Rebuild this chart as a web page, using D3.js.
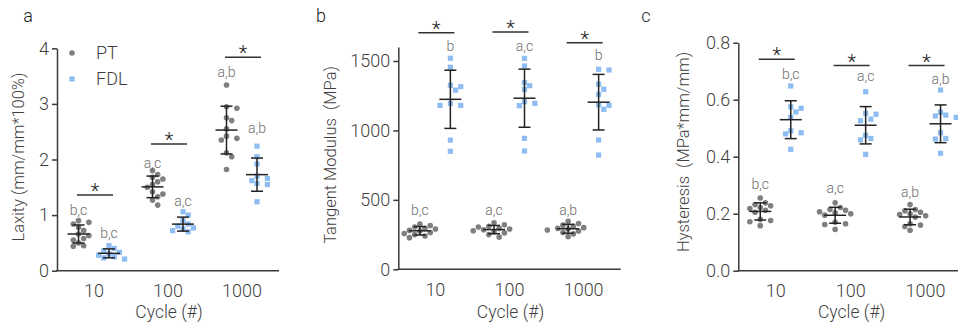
<!DOCTYPE html>
<html>
<head>
<meta charset="utf-8">
<script src="https://cdn.jsdelivr.net/npm/d3@7"></script>
<style>
  body { margin: 0; background: #fff; }
  svg text { font-family: Roboto, "Open Sans", sans-serif; font-weight: 300; }
</style>
</head>
<body>
<svg id="chart" width="958" height="329"></svg>
<script>
// categories
const cycles = ['10', '100', '1000'];
const groups = ['PT', 'FDL'];

// a: laxity (mm/mm*100%)
const laxityPT = [
  [0.90, 0.87, 0.84, 0.78, 0.72, 0.66, 0.63, 0.58, 0.55, 0.50, 0.45, 0.44],
  [1.80, 1.73, 1.68, 1.65, 1.60, 1.55, 1.50, 1.42, 1.38, 1.33, 1.27, 1.18],
  [3.34, 2.95, 2.92, 2.75, 2.70, 2.55, 2.42, 2.35, 2.38, 2.12, 2.05, 1.82]
];
const laxityFDL = [
  [0.45, 0.40, 0.36, 0.33, 0.30, 0.28, 0.25, 0.23, 0.21],
  [1.06, 1.00, 0.90, 0.84, 0.80, 0.77, 0.75, 0.72, 0.70],
  [2.24, 2.05, 1.92, 1.70, 1.66, 1.62, 1.57, 1.55, 1.24]
];
const laxityLetters = [['b,c', 'b,c'], ['a,c', 'a,c'], ['a,b', 'a,b']];
const laxityLetterAt = [[1.00, 0.59], [1.85, 1.16], [3.48, 2.48]];
const laxitySigAt = [1.36, 2.28, 3.84];

// b: tangent modulus (MPa)
const modulusPT = [
  [325, 315, 305, 295, 290, 280, 275, 265, 258, 250, 240, 228],
  [335, 320, 310, 305, 295, 290, 285, 278, 270, 262, 250, 232],
  [345, 330, 318, 310, 300, 295, 290, 283, 275, 265, 255, 235]
];
const modulusFDL = [
  [1520, 1455, 1325, 1315, 1290, 1195, 1180, 1180, 930, 850],
  [1519, 1464, 1344, 1322, 1296, 1207, 1195, 1178, 943, 852],
  [1440, 1435, 1332, 1296, 1260, 1185, 1180, 1152, 931, 823]
];
const modulusLetters = [['b,c', 'b'], ['a,c', 'a,c'], ['a,b', 'b']];
const modulusLetterAt = [[391, 1572], [391, 1572], [391, 1507]];
const modulusSigAt = [1704, 1708, 1632];

// c: hysteresis (MPa*mm/mm)
const hysteresisPT = [
  [0.255, 0.238, 0.232, 0.228, 0.222, 0.218, 0.212, 0.205, 0.180, 0.176, 0.172, 0.158],
  [0.238, 0.222, 0.215, 0.212, 0.207, 0.203, 0.200, 0.195, 0.170, 0.165, 0.162, 0.145],
  [0.232, 0.215, 0.210, 0.205, 0.200, 0.197, 0.193, 0.188, 0.165, 0.160, 0.155, 0.142]
];
const hysteresisFDL = [
  [0.648, 0.575, 0.570, 0.557, 0.538, 0.491, 0.484, 0.480, 0.426],
  [0.628, 0.552, 0.549, 0.532, 0.526, 0.475, 0.464, 0.459, 0.408],
  [0.634, 0.556, 0.546, 0.543, 0.538, 0.484, 0.464, 0.462, 0.412]
];
const hysteresisLetters = [['b,c', 'b,c'], ['a,c', 'a,c'], ['a,b', 'a,b']];
const hysteresisLetterAt = [[0.288, 0.673], [0.274, 0.664], [0.260, 0.655]];
const hysteresisSigAt = [0.742, 0.72, 0.72];

const colors = { PT: '#7f7f7f', FDL: '#8dbdf3' };
const axisColor = '#3a3a3a';
const textColor = '#3f3f3f';

const svg = d3.select('#chart');

const panels = [
  {
    label: 'a', title: 'Laxity (mm/mm*100%)', x0: 57, x1: 279, yTop: 48.3, yBottom: 270.7,
    domain: [0, 4], ticks: [0, 1, 2, 3, 4], fmt: d3.format('d'), titleX: 18, titleY: 157, panelX: 28,
    pt: laxityPT, fdl: laxityFDL, letters: laxityLetters, letterAt: laxityLetterAt, sigAt: laxitySigAt,
    legend: true
  },
  {
    label: 'b', title: 'Tangent Modulus  (MPa)', x0: 398.3, x1: 620.7, yTop: 47.1, yBottom: 269.3,
    domain: [0, 1600], ticks: [0, 500, 1000, 1500], fmt: d3.format('d'), titleX: 330, titleY: 155, panelX: 321,
    pt: modulusPT, fdl: modulusFDL, letters: modulusLetters, letterAt: modulusLetterAt, sigAt: modulusSigAt
  },
  {
    label: 'c', title: 'Hysteresis  (MPa*mm/mm)', x0: 738.3, x1: 963, yTop: 42.7, yBottom: 270.7,
    domain: [0, 0.8], ticks: [0, 0.2, 0.4, 0.6, 0.8], fmt: d3.format('.1f'), titleX: 683, titleY: 152, panelX: 646,
    pt: hysteresisPT, fdl: hysteresisFDL, letters: hysteresisLetters, letterAt: hysteresisLetterAt, sigAt: hysteresisSigAt
  }
];

const groupOffset = { PT: -15.5, FDL: 15 };
const dotR = 2.8;

// simple beeswarm: push each point sideways until it clears the ones already placed
function swarm(values, y, step) {
  const placed = [];
  const sorted = values.slice().sort((a, b) => b - a);
  sorted.forEach(v => {
    const py = y(v);
    let k = 0, dx = 0;
    while (true) {
      dx = k === 0 ? 0 : (k % 2 ? 1 : -1) * Math.ceil(k / 2) * step;
      const hit = placed.some(p => Math.hypot(p.dx - dx, p.y - py) < dotR * 2.1);
      if (!hit) break;
      k++;
    }
    placed.push({ v, y: py, dx });
  });
  return placed;
}

panels.forEach(p => {
  const g = svg.append('g');

  const x = d3.scaleBand().domain(cycles).range([p.x0, p.x1]);
  const y = d3.scaleLinear().domain(p.domain).range([p.yBottom, p.yTop]);

  // y axis
  const yAxis = g.append('g')
    .attr('transform', `translate(${p.x0},0)`)
    .call(d3.axisLeft(y).tickValues(p.ticks).tickFormat(p.fmt).tickSize(5).tickPadding(3).tickSizeOuter(0));
  yAxis.select('.domain').attr('stroke', axisColor).attr('stroke-width', 1.5);
  yAxis.selectAll('.tick line').attr('stroke', axisColor).attr('stroke-width', 1.5);
  yAxis.selectAll('.tick text').attr('fill', textColor).style('font-size', '18px');

  // x axis (no tick marks)
  const xAxis = g.append('g')
    .attr('transform', `translate(0,${p.yBottom})`)
    .call(d3.axisBottom(x).tickSize(0).tickPadding(14));
  xAxis.select('.domain').attr('stroke', axisColor).attr('stroke-width', 1.5)
    .attr('d', `M${p.x0 - 0.75},0H${p.x1}`);
  xAxis.selectAll('.tick text').attr('fill', textColor).style('font-size', '18px');

  // titles
  g.append('text')
    .attr('transform', `translate(${p.titleX},${p.titleY}) rotate(-90)`)
    .attr('text-anchor', 'middle').attr('dy', '0.35em')
    .attr('fill', textColor).style('font-size', '16.5px').style('white-space', 'pre')
    .text(p.title);
  g.append('text')
    .attr('x', (p.x0 + p.x1) / 2 + 1).attr('y', 318)
    .attr('text-anchor', 'middle').attr('fill', textColor).style('font-size', '17.5px')
    .text('Cycle (#)');
  g.append('text')
    .attr('x', p.panelX).attr('y', 22).attr('text-anchor', 'middle')
    .attr('fill', '#222').style('font-size', '18px')
    .text(p.label);

  cycles.forEach((c, i) => {
    const cx = x(c) + x.bandwidth() / 2;
    [['PT', p.pt[i]], ['FDL', p.fdl[i]]].forEach(([grp, vals], j) => {
      const gx = cx + groupOffset[grp];
      const pts = swarm(vals, y, 5.2);
      if (grp === 'PT') {
        g.selectAll(null).data(pts).enter().append('circle')
          .attr('cx', d => gx + d.dx).attr('cy', d => d.y).attr('r', dotR)
          .attr('fill', colors.PT);
      } else {
        g.selectAll(null).data(pts).enter().append('rect')
          .attr('x', d => gx + d.dx - 2.6).attr('y', d => d.y - 2.6)
          .attr('width', 5.2).attr('height', 5.2)
          .attr('fill', colors.FDL);
      }
      // mean ± SD
      const m = d3.mean(vals), s = d3.deviation(vals);
      const eb = g.append('g').attr('stroke', '#222').attr('stroke-width', 1.5);
      eb.append('line').attr('x1', gx).attr('x2', gx).attr('y1', y(m - s)).attr('y2', y(m + s));
      eb.append('line').attr('x1', gx - 6).attr('x2', gx + 6).attr('y1', y(m + s)).attr('y2', y(m + s));
      eb.append('line').attr('x1', gx - 6).attr('x2', gx + 6).attr('y1', y(m - s)).attr('y2', y(m - s));
      eb.append('line').attr('x1', gx - 11).attr('x2', gx + 11).attr('y1', y(m)).attr('y2', y(m));

      // significance letters
      g.append('text')
        .attr('x', gx).attr('y', y(p.letterAt[i][j]))
        .attr('text-anchor', 'middle').attr('fill', '#6e6e6e').style('font-size', '14px')
        .text(p.letters[i][j]);
    });

    // significance bar
    const sy = y(p.sigAt[i]);
    g.append('line')
      .attr('x1', cx - 17).attr('x2', cx + 19).attr('y1', sy).attr('y2', sy)
      .attr('stroke', '#333').attr('stroke-width', 1.5);
    g.append('text')
      .attr('x', cx + 1).attr('y', sy + 3).attr('text-anchor', 'middle')
      .attr('fill', '#222').style('font-size', '20px').text('*');
  });

  if (p.legend) {
    const items = [{ name: 'PT', y: 53 }, { name: 'FDL', y: 79 }];
    items.forEach(it => {
      if (it.name === 'PT') {
        g.append('circle').attr('cx', 72).attr('cy', it.y).attr('r', dotR).attr('fill', colors.PT);
      } else {
        g.append('rect').attr('x', 69.4).attr('y', it.y - 2.6).attr('width', 5.2).attr('height', 5.2).attr('fill', colors.FDL);
      }
      g.append('text').attr('x', 96).attr('y', it.y).attr('dy', '0.35em')
        .attr('fill', textColor).style('font-size', '18px').text(it.name);
    });
  }
});
</script>
</body>
</html>
